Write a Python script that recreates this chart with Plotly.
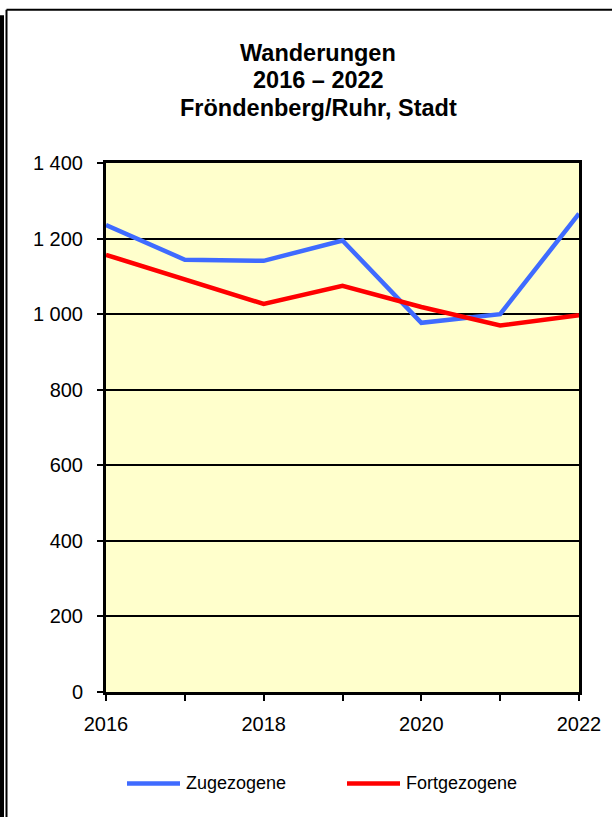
import plotly.graph_objects as go

years = [2016, 2017, 2018, 2019, 2020, 2021, 2022]
zugezogene = [1236, 1144, 1141, 1195, 977, 1000, 1266]
fortgezogene = [1157, 1091, 1027, 1075, 1019, 970, 997]
series_names = ["Zugezogene", "Fortgezogene"]
series_colors = ["#3F6BFF", "#FF0000"]
y_ticks = [0, 200, 400, 600, 800, 1000, 1200, 1400]
y_labels = ["0", "200", "400", "600", "800", "1 000", "1 200", "1 400"]
x_labels = ["2016", "", "2018", "", "2020", "", "2022"]
title_lines = ["Wanderungen", "2016 – 2022", "Fröndenberg/Ruhr, Stadt"]

W, H = 612, 817
L, R, T, B = 106, 579, 163, 692.5

def px(x):
    return (x - L) / (R - L)

def py(y):
    return (B - y) / (B - T)

fig = go.Figure()
for name, vals, col in zip(series_names, [zugezogene, fortgezogene], series_colors):
    fig.add_trace(go.Scatter(x=years, y=vals, mode="lines", name=name,
                             line=dict(color=col, width=4.5), cliponaxis=False,
                             showlegend=False))

font = "Liberation Sans, Arial, sans-serif"
fig.update_layout(
    width=W, height=H,
    margin=dict(l=L, r=W - R, t=T, b=H - B, pad=0),
    paper_bgcolor="white", plot_bgcolor="#FFFFCC",
    font=dict(family=font, size=20, color="black"),
    showlegend=False,
    xaxis=dict(range=[2016, 2022], tickvals=years, ticktext=x_labels,
               ticks="outside", ticklen=6, tickwidth=2, tickcolor="black",
               ticklabelstandoff=6,
               showline=True, linecolor="black", linewidth=3, mirror=True,
               showgrid=False, zeroline=False, tickfont=dict(size=20)),
    yaxis=dict(range=[0, 1400], tickvals=y_ticks, ticktext=y_labels,
               ticks="outside", ticklen=6, tickwidth=2, tickcolor="black",
               ticklabelstandoff=10,
               showline=True, linecolor="black", linewidth=3, mirror=True,
               showgrid=True, gridcolor="black", gridwidth=2, zeroline=False,
               tickfont=dict(size=20)),
)

# title lines
for line, yc in zip(title_lines, [53, 80, 108]):
    fig.add_annotation(text="<b>%s</b>" % line, xref="paper", yref="paper",
                       x=px(318), y=py(yc), xanchor="center", yanchor="middle",
                       showarrow=False, font=dict(family=font, size=23.5, color="black"))

# legend drawn manually
leg_y = 784
for name, col, x0 in zip(series_names, series_colors, [127, 347]):
    fig.add_shape(type="line", xref="paper", yref="paper",
                  x0=px(x0), x1=px(x0 + 53), y0=py(leg_y), y1=py(leg_y),
                  line=dict(color=col, width=4.5))
    fig.add_annotation(text=name, xref="paper", yref="paper",
                       x=px(x0 + 57), y=py(leg_y), xanchor="left", yanchor="middle",
                       showarrow=False, font=dict(family=font, size=18, color="black"))

# outer frame
fig.add_shape(type="rect", xref="paper", yref="paper",
              x0=px(0), x1=px(4), y0=py(H + 5), y1=py(15),
              fillcolor="black", line=dict(width=0), layer="above")
fig.add_shape(type="line", xref="paper", yref="paper",
              x0=px(6.5), x1=px(6.5), y0=py(H + 5), y1=py(9.5),
              line=dict(color="black", width=2))
fig.add_shape(type="line", xref="paper", yref="paper",
              x0=px(6.5), x1=px(W + 5), y0=py(9.5), y1=py(9.5),
              line=dict(color="black", width=2))

fig.write_html("out.html", config={"displayModeBar": False},
               post_script="document.body.style.margin='0px';")
